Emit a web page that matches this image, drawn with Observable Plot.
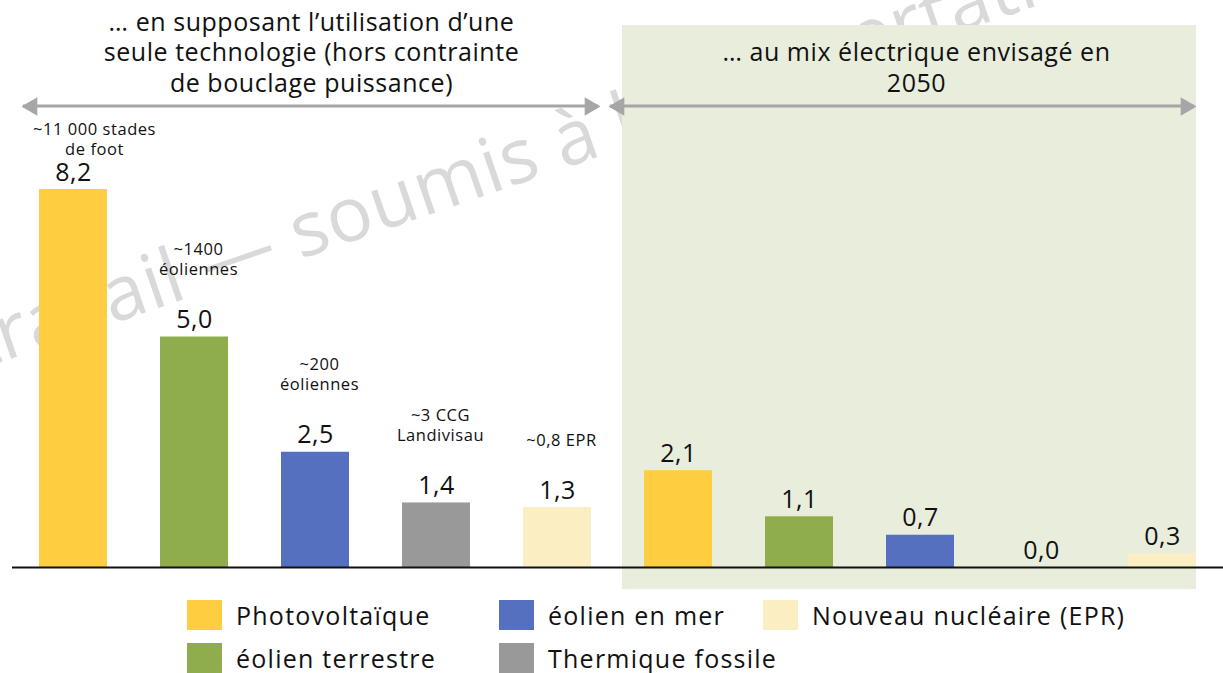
<!DOCTYPE html>
<html>
<head>
<meta charset="utf-8">
<script src="https://cdn.jsdelivr.net/npm/d3@7"></script>
<script src="https://cdn.jsdelivr.net/npm/@observablehq/plot@0.6"></script>
<style>
  body { margin: 0; background: #fff; font-family: "Open Sans", sans-serif; }
  #chart svg { overflow: visible; display: block; letter-spacing: 0.055em; }
  .legend { display: grid; grid-template-columns: 312px 264px auto; grid-template-rows: 43px 43px;
            grid-auto-flow: column; padding-left: 187px; margin-top: 8px; }
  .legend .item { display: flex; align-items: flex-start; font-size: 25px; color: #111; line-height: 30px; letter-spacing: 0.05em; white-space: nowrap; }
  .legend .sw { width: 35px; height: 30px; margin-right: 14px; flex: none; }
</style>
</head>
<body>
<div id="chart"></div>
<script>
// ---- data ----
const technologies = ["Photovoltaïque", "éolien terrestre", "éolien en mer", "Thermique fossile", "Nouveau nucléaire (EPR)"];
const techColors = ["#FFCD40", "#8FAD4C", "#5470BE", "#999999", "#FCEEC3"];
const singleTechValues = [8.2, 5.0, 2.5, 1.4, 1.3];
const mix2050Values = [2.1, 1.1, 0.7, 0.0, 0.3];
const singleTechNotes = ["~11 000 stades\nde foot", "~1400\néoliennes", "~200\néoliennes", "~3 CCG\nLandivisau", "~0,8 EPR"];
const groupLabels = [
  "… en supposant l’utilisation d’une\nseule technologie (hors contrainte\nde bouclage puissance)",
  "… au mix électrique envisagé en\n2050"
];
const watermark = "Document de travail — soumis à la concertation";

// ---- table ----
const groupValues = [singleTechValues, mix2050Values];
const rows = [];
groupValues.forEach((vals, g) => {
  technologies.forEach((t, i) => {
    rows.push({key: g + "|" + t, group: g, tech: t, value: vals[i], note: g === 0 ? singleTechNotes[i] : null, idx: i});
  });
});
const keys = rows.map(d => d.key);
const groups = groupLabels.map((label, g) => {
  const gr = rows.filter(d => d.group === g);
  return {label, first: gr[0].key, mid: gr[2].key, last: gr[gr.length - 1].key};
});
const fmt = v => v.toFixed(1).replace(".", ",");

const H = 592;
const MB = 25;
const arrowColor = "#A6A6A6";
const arrowY = 106;
const headR = 6.8;

const plot = Plot.plot({
  width: 1223,
  height: H,
  marginLeft: 12,
  marginRight: 0,
  marginTop: 0,
  marginBottom: MB,
  style: {fontFamily: "Open Sans, sans-serif", overflow: "visible"},
  x: {type: "band", domain: keys, paddingInner: 0.44, paddingOuter: 0.22, axis: null},
  y: {domain: [0, 12.3], axis: null},
  color: {domain: technologies, range: techColors},
  marks: [
    Plot.text([watermark], {frameAnchor: "top-left", text: d => d, rotate: -19, dx: -512, dy: 534,
      fontSize: 76, fill: "#D9D9D9", textAnchor: "start", lineAnchor: "bottom"}),
    // green panel behind the 2050 group
    Plot.rect([groups[1]], {x1: "first", x2: "last", fill: "#E9EDDC", insetLeft: -22, insetRight: 0, insetTop: 25, insetBottom: -22}),
    // arrow shafts
    Plot.rect([groups[0]], {x1: "first", x2: "last", fill: arrowColor, insetLeft: -16, insetRight: -7, insetTop: arrowY - 1.5, insetBottom: H - MB - arrowY - 1.5}),
    Plot.rect([groups[1]], {x1: "first", x2: "last", fill: arrowColor, insetLeft: -34, insetRight: 2, insetTop: arrowY - 1.5, insetBottom: H - MB - arrowY - 1.5}),
    // arrow heads
    Plot.dot([groups[0]], {x: "first", frameAnchor: "top", dy: arrowY, dx: -41.5, symbol: "triangle", r: headR, fill: arrowColor, rotate: -90}),
    Plot.dot([groups[0]], {x: "last", frameAnchor: "top", dy: arrowY, dx: 32.5, symbol: "triangle", r: headR, fill: arrowColor, rotate: 90}),
    Plot.dot([groups[1]], {x: "first", frameAnchor: "top", dy: arrowY, dx: -59.5, symbol: "triangle", r: headR, fill: arrowColor, rotate: -90}),
    Plot.dot([groups[1]], {x: "last", frameAnchor: "top", dy: arrowY, dx: 23.5, symbol: "triangle", r: headR, fill: arrowColor, rotate: 90}),
    // group headers
    Plot.text(groups, {x: "mid", frameAnchor: "top", text: "label", dx: -4, dy: 91, lineAnchor: "bottom", fontSize: 25, lineHeight: 1.22, fill: "#111"}),
    // bars
    Plot.barY(rows, {x: "key", y: "value", fill: "tech"}),
    Plot.ruleY([0], {stroke: "#111", strokeWidth: 2}),
    // value labels
    Plot.text(rows, {x: "key", y: "value", text: d => fmt(d.value), lineAnchor: "bottom", dy: -9, fontSize: 25, fill: "#111"}),
    // annotations
    Plot.text(rows.filter(d => d.note && d.idx === 0), {x: "key", y: "value", text: "note", lineAnchor: "bottom", dx: 21, dy: -35, fontSize: 16.5, lineHeight: 1.2, fill: "#111"}),
    Plot.text(rows.filter(d => d.note && d.idx > 0), {x: "key", y: "value", text: "note", lineAnchor: "bottom", dx: 4, dy: -62, fontSize: 16.5, lineHeight: 1.2, fill: "#111"})
  ]
});
document.getElementById("chart").appendChild(plot);

// legend
const legend = document.createElement("div");
legend.className = "legend";
technologies.forEach((t, i) => {
  const item = document.createElement("div");
  item.className = "item";
  const sw = document.createElement("span");
  sw.className = "sw";
  sw.style.background = techColors[i];
  const lab = document.createElement("span");
  lab.textContent = t;
  item.appendChild(sw);
  item.appendChild(lab);
  legend.appendChild(item);
});
document.getElementById("chart").appendChild(legend);
</script>
</body>
</html>
